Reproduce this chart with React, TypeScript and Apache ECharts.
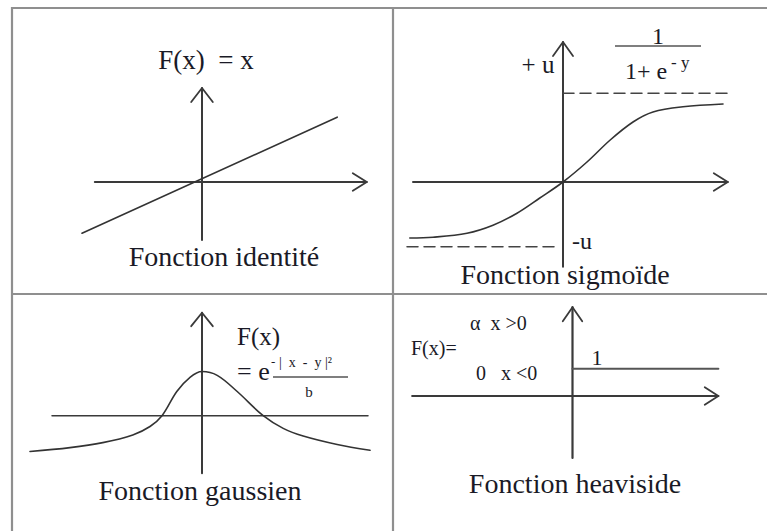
import React, { useEffect, useRef } from "react";
import * as echarts from "echarts";

// ---- data (1 unit = 40 px on the drawing) ----
// Panel A: identity
const identityLine = [[-3, -1.28], [3.38, 1.62]];
const identityHAxis = [[-2.68, 0], [4.12, 0]];
const identityHArrow = [[3.77, 0.22], [4.12, 0], [3.77, -0.22]];
const identityVAxis = [[0, -1.45], [0, 2.35]];
const identityVArrow = [[-0.27, 2.0], [0, 2.35], [0.27, 2.0]];

// Panel B: sigmoid
const sigmoidCurve = [
  [-3.83, -1.4], [-3.25, -1.38], [-2.4, -1.28], [-1.75, -1.08], [-1.15, -0.78],
  [-0.58, -0.4], [0, 0], [0.6, 0.5], [1.18, 1.05], [1.75, 1.5], [2.25, 1.75],
  [3.0, 1.88], [4.0, 1.95],
];
const sigmoidHAxis = [[-3.75, 0], [4.12, 0]];
const sigmoidHArrow = [[3.77, 0.22], [4.12, 0], [3.77, -0.22]];
const sigmoidVAxis = [[0, -2.12], [0, 3.5]];
const sigmoidVArrow = [[-0.25, 3.15], [0, 3.5], [0.25, 3.15]];
const sigmoidUpper = [[0, 2.22], [4.25, 2.22]];
const sigmoidLower = [[-3.9, -1.62], [-0.12, -1.62]];

// Panel C: gaussian
const gaussCurve = [
  [-4.3, -0.93], [-3.3, -0.83], [-2.48, -0.7], [-1.73, -0.5], [-1.3, -0.28],
  [-1.0, 0], [-0.63, 0.63], [-0.3, 1.0], [0, 1.15], [0.38, 1.05], [0.88, 0.63],
  [1.53, 0], [2.03, -0.33], [2.53, -0.53], [3.38, -0.75], [4.2, -0.9],
];
const gaussHLine = [[-3.75, 0], [4.15, 0]];
const gaussVAxis = [[0, -1.5], [0, 2.68]];
const gaussVArrow = [[-0.27, 2.33], [0, 2.68], [0.27, 2.33]];

// Panel D: heaviside
const heaviHAxis = [[-4.12, 0], [3.75, 0]];
const heaviHArrow = [[3.4, 0.22], [3.75, 0], [3.4, -0.22]];
const heaviVAxis = [[0, -1.55], [0, 2.22]];
const heaviVArrow = [[-0.25, 1.87], [0, 2.22], [0.25, 1.87]];
const heaviStep = [[0, 0.68], [3.75, 0.68]];

// panel origins in px
const origins = [
  [202, 182],
  [563, 182],
  [202, 422],
  [578, 396],
];
const UNIT = 40;
const XR = [-5, 5];
const YR = [-3, 4];

const FONT = "'Liberation Serif', 'Times New Roman', serif";
const TXT = "#1a1a26";
const AX = "#3a3a3a";

export default function App() {
  const ref = useRef<HTMLDivElement>(null);
  useEffect(() => {
    const chart = echarts.init(ref.current!, null, { renderer: "svg" });
    const grids = origins.map(([ox, oy]) => ({
      left: ox + XR[0] * UNIT,
      top: oy - YR[1] * UNIT,
      width: (XR[1] - XR[0]) * UNIT,
      height: (YR[1] - YR[0]) * UNIT,
    }));
    const xAxes = origins.map((_, i) => ({
      type: "value", gridIndex: i, min: XR[0], max: XR[1], show: false,
    }));
    const yAxes = origins.map((_, i) => ({
      type: "value", gridIndex: i, min: YR[0], max: YR[1], show: false,
    }));
    const ln = (i: number, data: number[][], opts: any = {}) => ({
      type: "line",
      xAxisIndex: i,
      yAxisIndex: i,
      data,
      symbol: "none",
      silent: true,
      clip: false,
      smooth: opts.smooth ?? false,
      lineStyle: {
        color: opts.color ?? AX,
        width: opts.width ?? 2,
        type: opts.type ?? "solid",
        cap: "round",
        join: "round",
      },
    });
    const curve = { color: "#333", width: 1.6, smooth: 0.35 };
    const series = [
      ln(0, identityHAxis),
      ln(0, identityHArrow, { width: 1.8 }),
      ln(0, identityVAxis),
      ln(0, identityVArrow, { width: 1.8 }),
      ln(0, identityLine, { color: "#333", width: 1.6 }),

      ln(1, sigmoidHAxis),
      ln(1, sigmoidHArrow, { width: 1.8 }),
      ln(1, sigmoidVAxis),
      ln(1, sigmoidVArrow, { width: 1.8 }),
      ln(1, sigmoidUpper, { color: "#444", width: 1.5, type: [11, 6] }),
      ln(1, sigmoidLower, { color: "#444", width: 1.5, type: [11, 6] }),
      ln(1, sigmoidCurve, curve),

      ln(2, gaussHLine, { width: 1.5 }),
      ln(2, gaussVAxis),
      ln(2, gaussVArrow, { width: 1.8 }),
      ln(2, gaussCurve, curve),

      ln(3, heaviHAxis, { width: 2.2 }),
      ln(3, heaviHArrow, { width: 1.8 }),
      ln(3, heaviVAxis, { width: 2.2 }),
      ln(3, heaviVArrow, { width: 1.8 }),
      ln(3, heaviStep, { color: "#555", width: 2 }),
    ];

    const t = (text: string, x: number, y: number, size: number, align = "center", extra: any = {}) => ({
      type: "text",
      x,
      y,
      silent: true,
      style: {
        text,
        fontFamily: FONT,
        fontSize: size,
        fill: TXT,
        textAlign: align,
        textVerticalAlign: "middle",
        ...extra,
      },
    });
    const hl = (x1: number, y1: number, x2: number, y2: number, stroke: string, w: number) => ({
      type: "line",
      silent: true,
      shape: { x1, y1, x2, y2 },
      style: { stroke, lineWidth: w },
    });
    const frame = "#8f8f8f";
    const graphic = [
      hl(11, 8, 767, 8, frame, 2.2),
      hl(12, 7, 12, 531, frame, 2.2),
      hl(393, 7, 393, 531, frame, 2.2),
      hl(11, 294, 767, 294, frame, 2.2),

      t("F(x)  = x", 206, 60, 27),
      t("Fonction identité", 224, 256, 28),

      t("+ u", 538, 64, 25),
      t("1", 658, 36, 24),
      hl(615, 46, 701, 46, "#555", 1.5),
      t("1+ e", 625, 71, 24, "left"),
      t("- y", 671, 62, 17, "left"),
      t("-u", 572, 241, 24, "left"),
      t("Fonction sigmoïde", 565, 274, 28),

      t("F(x)", 237, 336, 25, "left"),
      t("= e", 237, 371, 26, "left"),
      t("-", 271, 361, 13, "left"),
      t("|  x  -  y |²", 279, 362, 14, "left"),
      hl(273, 377, 348, 377, "#555", 1.3),
      t("b", 309, 392, 15),
      t("Fonction gaussien", 200, 490, 28),

      t("F(x)=", 411, 348, 20, "left"),
      t("α  x >0", 470, 323, 20, "left"),
      t("0   x <0", 476, 373, 20, "left"),
      t("1", 597, 357, 22),
      t("Fonction heaviside", 575, 483, 28),
    ];

    chart.setOption({
      animation: false,
      backgroundColor: "#ffffff",
      grid: grids,
      xAxis: xAxes,
      yAxis: yAxes,
      series,
      graphic,
    });
    return () => chart.dispose();
  }, []);
  return (
    <div
      ref={ref}
      style={{ position: "fixed", left: 0, top: 0, width: 767, height: 531, background: "#fff" }}
    />
  );
}
